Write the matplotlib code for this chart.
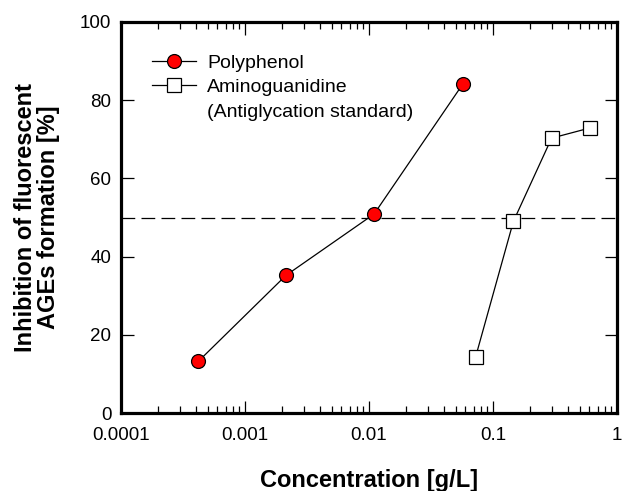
import matplotlib
matplotlib.use("Agg")
import matplotlib.pyplot as plt
from matplotlib.lines import Line2D
from matplotlib.ticker import LogLocator, FixedLocator, NullFormatter

plt.rcParams['font.family'] = ['Liberation Sans', 'DejaVu Sans']

# Data
poly_x = [0.00042, 0.00214, 0.011, 0.057]
poly_y = [13.2, 35.2, 50.9, 84.1]
amino_x = [0.0725, 0.146, 0.297, 0.605]
amino_y = [14.4, 49.0, 70.3, 72.9]
threshold = 50
xtick_vals = [0.0001, 0.001, 0.01, 0.1, 1]
xtick_labels = ["0.0001", "0.001", "0.01", "0.1", "1"]
ytick_vals = [0, 20, 40, 60, 80, 100]

fig = plt.figure(figsize=(6.32, 4.91), dpi=100)
ax = fig.add_axes([121/632, 1-413/491, (617-121)/632, (413-22)/491])

ax.axhline(threshold, color='black', lw=0.9, dashes=(11, 5), zorder=1)
ax.plot(poly_x, poly_y, '-', color='black', lw=0.9, marker='o', ms=10,
        mfc='#ff0000', mec='black', mew=0.9, zorder=3)
ax.plot(amino_x, amino_y, '-', color='black', lw=0.9, marker='s', ms=9.5,
        mfc='white', mec='black', mew=0.9, zorder=3)

ax.set_xscale('log')
ax.set_xlim(0.0001, 1)
ax.set_ylim(0, 100)
ax.xaxis.set_major_locator(FixedLocator(xtick_vals))
ax.set_xticklabels(xtick_labels)
ax.xaxis.set_minor_locator(LogLocator(base=10, subs=range(2, 10), numticks=20))
ax.xaxis.set_minor_formatter(NullFormatter())
ax.set_yticks(ytick_vals)

ax.tick_params(which='both', direction='in', top=True, right=True, labelsize=13.5, width=0.9)
ax.tick_params(which='major', length=9)
ax.tick_params(axis='x', which='major', pad=10)
ax.tick_params(axis='y', which='major', pad=7)
ax.tick_params(which='minor', length=5)
for s in ax.spines.values():
    s.set_linewidth(2.3)

ax.set_xlabel("Concentration [g/L]", fontsize=17, fontweight='bold', labelpad=18)
ax.set_ylabel("Inhibition of fluorescent\nAGEs formation [%]", fontsize=17,
              fontweight='bold', labelpad=14, linespacing=1.0)

h1 = Line2D([], [], color='black', lw=0.9, marker='o', ms=10, mfc='#ff0000', mec='black', mew=0.9)
h2 = Line2D([], [], color='black', lw=0.9, marker='s', ms=9.5, mfc='white', mec='black', mew=0.9)
h3 = Line2D([], [], color='none', lw=0, marker=None)
leg = ax.legend([h1, h2, h3], ["Polyphenol", "Aminoguanidine", "(Antiglycation standard)"],
                loc='upper left', bbox_to_anchor=(31/496, 1-32/391), frameon=False, fontsize=14,
                handlelength=2.27, handletextpad=0.58, labelspacing=0.36, borderaxespad=0,
                borderpad=0)

fig.savefig("out.png", dpi=100)
